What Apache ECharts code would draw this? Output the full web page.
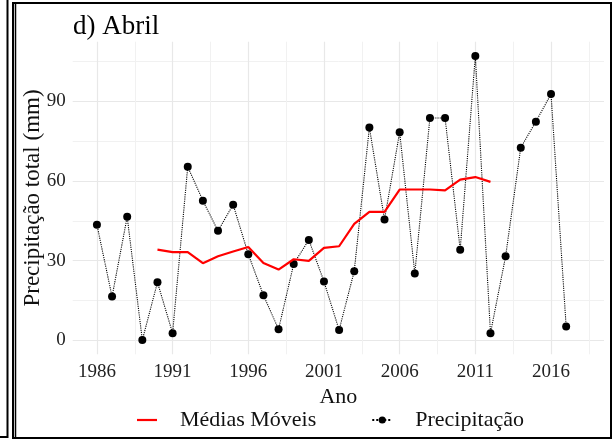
<!DOCTYPE html>
<html>
<head>
<meta charset="utf-8">
<script src="https://cdn.jsdelivr.net/npm/echarts@6/dist/echarts.min.js"></script>
<style>
html,body{margin:0;padding:0;background:#fff;}
#c{width:614px;height:441px;}
</style>
</head>
<body>
<div id="c"></div>
<script>
var years = [1986,1987,1988,1989,1990,1991,1992,1993,1994,1995,1996,1997,1998,1999,2000,2001,2002,2003,2004,2005,2006,2007,2008,2009,2010,2011,2012,2013,2014,2015,2016,2017];
var precip = [43.5,16.4,46.5,0,21.8,2.6,65.4,52.6,41.2,51.1,32.4,16.9,4.1,28.7,37.8,22.1,3.8,26.0,80.2,45.5,78.4,25.1,83.8,83.8,34.1,107.2,2.6,31.6,72.6,82.4,92.8,5.1];
var maYears = [1990,1991,1992,1993,1994,1995,1996,1997,1998,1999,2000,2001,2002,2003,2004,2005,2006,2007,2008,2009,2010,2011,2012];
var maValues = [34.1,33.2,33.2,29.0,31.6,33.4,35.1,29.1,26.6,30.5,29.9,34.8,35.4,43.8,48.4,48.4,56.8,56.8,56.8,56.5,60.5,61.5,59.7];
var xMajorTicks = [1986,1991,1996,2001,2006,2011,2016];
var xMinorTicks = [1988.5,1993.5,1998.5,2003.5,2008.5,2013.5,2018.5];
var yMajorTicks = [0,30,60,90];
var yMinorTicks = [15,45,75,105];

var FONT = '"Liberation Serif", "Times New Roman", serif';
var chart = echarts.init(document.getElementById('c'));

function pairs(xs, ys){ return xs.map(function(x,i){ return [x, ys[i]]; }); }
function plain(v){ return String(v); }

var xMin = 1984.4, xMax = 2019.5, yMin = -5.36, yMax = 112.56;

chart.setOption({
  animation: false,
  backgroundColor: '#fff',
  title: {
    text: 'd) Abril', left: 68, top: 8,
    textStyle: {fontFamily: FONT, fontSize: 27, fontWeight: 'normal', color: '#000'}
  },
  grid: {left: 72.7, right: 10, top: 41.7, bottom: 86.7, containLabel: false},
  legend: {
    left: 132, top: 404, itemGap: 55, itemWidth: 20, itemHeight: 9,
    data: [
      {name: 'Médias Móveis', icon: 'path://M0,0 L20,0 L20,2.2 L0,2.2 Z'},
      {name: 'Precipitação'}
    ],
    textStyle: {fontFamily: FONT, fontSize: 22, color: '#111', padding: [0,0,0,18]}
  },
  xAxis: [{
    type: 'value', min: xMin, max: xMax,
    name: 'Ano', nameLocation: 'middle', nameGap: 25,
    nameTextStyle: {fontFamily: FONT, fontSize: 22, color: '#111'},
    axisLine: {show: false},
    axisTick: {show: false, customValues: xMajorTicks},
    axisLabel: {customValues: xMajorTicks, formatter: plain, margin: 8, fontFamily: FONT, fontSize: 19, color: '#222'},
    splitLine: {show: true, lineStyle: {color: '#e8e8e8', width: 1.2}}
  }, {
    type: 'value', min: xMin, max: xMax, position: 'bottom',
    axisLine: {show: false},
    axisTick: {show: false, customValues: xMinorTicks},
    axisLabel: {show: false, customValues: xMinorTicks},
    splitLine: {show: true, lineStyle: {color: '#f1f1f1', width: 1}}
  }],
  yAxis: [{
    type: 'value', min: yMin, max: yMax,
    name: 'Precipitação total (mm)', nameLocation: 'middle', nameGap: 28, nameRotate: 90,
    nameMoveOverlap: false,
    nameTextStyle: {fontFamily: FONT, fontSize: 23, color: '#111'},
    axisLine: {show: false},
    axisTick: {show: false, customValues: yMajorTicks},
    axisLabel: {customValues: yMajorTicks, formatter: plain, margin: 7, fontFamily: FONT, fontSize: 19, color: '#222'},
    splitLine: {show: true, lineStyle: {color: '#e8e8e8', width: 1.2}}
  }, {
    type: 'value', min: yMin, max: yMax, position: 'left',
    axisLine: {show: false},
    axisTick: {show: false, customValues: yMinorTicks},
    axisLabel: {show: false, customValues: yMinorTicks},
    splitLine: {show: true, lineStyle: {color: '#f1f1f1', width: 1}}
  }],
  series: [{
    name: 'Precipitação', type: 'line', xAxisIndex: 0, yAxisIndex: 0,
    data: pairs(years, precip),
    symbol: 'circle', symbolSize: 8,
    itemStyle: {color: '#000'},
    lineStyle: {color: '#000', width: 1.1, type: 'dotted'},
    z: 3
  }, {
    name: 'Médias Móveis', type: 'line', xAxisIndex: 0, yAxisIndex: 0,
    data: pairs(maYears, maValues),
    symbol: 'none',
    itemStyle: {color: '#ff0000'},
    lineStyle: {color: '#ff0000', width: 2.2},
    z: 4
  }],
  graphic: [
    {type: 'rect', shape: {x: 13, y: 3, width: 598, height: 435}, style: {fill: 'none', stroke: '#000', lineWidth: 2}, silent: true},
    {type: 'line', shape: {x1: 15.5, y1: 3, x2: 15.5, y2: 438}, style: {stroke: '#000', lineWidth: 1.5}, silent: true},
    {type: 'polyline', shape: {points: [[7.5,0],[7.5,437],[0,437]]}, style: {fill: 'none', stroke: '#000', lineWidth: 2}, silent: true}
  ]
});
</script>
</body>
</html>
